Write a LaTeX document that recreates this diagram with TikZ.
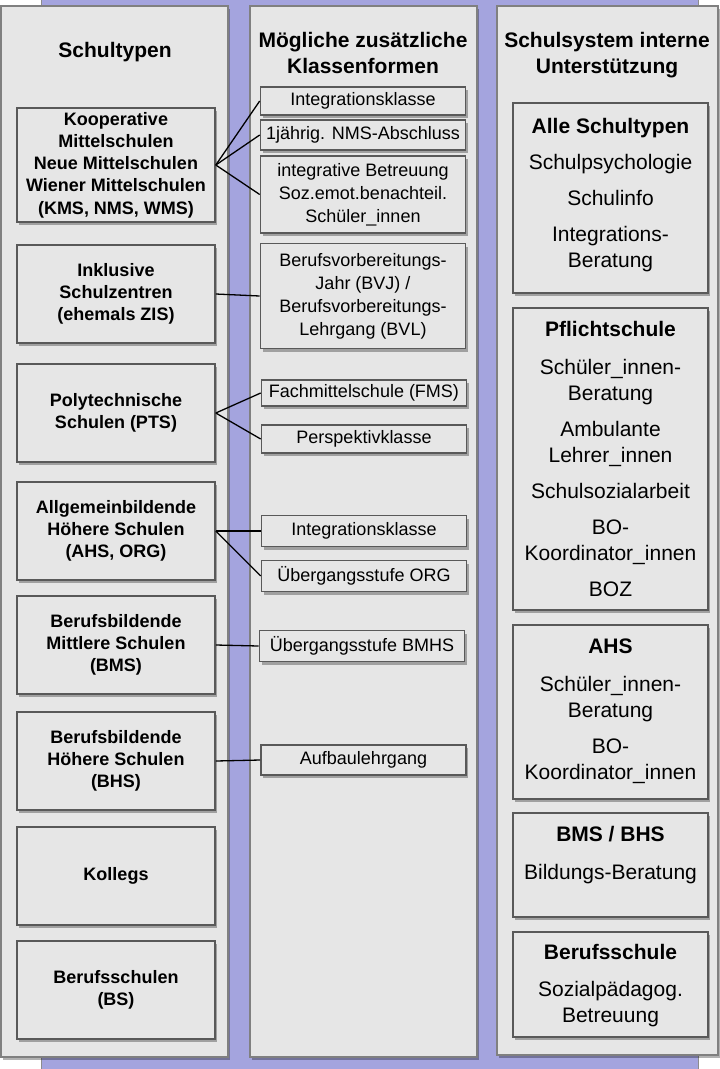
\documentclass[tikz,border=0pt]{standalone}
\usepackage{fontspec}
\setmainfont{Liberation Sans}
\usepackage{tikz}
\usetikzlibrary{positioning, shadows}
\definecolor{lila}{RGB}{164,164,222}
\definecolor{hellgrau}{RGB}{230,230,230}
\def\gap{10pt}

\begin{document}
\begin{tikzpicture}[x=1pt,y=-1pt,
    schatten/.style={drop shadow={shadow xshift=2pt,shadow yshift=-3pt,opacity=0.3,fill=black}},
    spalte/.style={rectangle,draw=black!50,fill=hellgrau,line width=1.2pt,schatten},
    typ/.style={rectangle,draw=black!65,fill=hellgrau,line width=1.6pt,schatten,
        minimum width=198pt,minimum height=98pt,inner sep=0pt,align=center,
        font=\fontsize{18}{22.3}\selectfont\bfseries},
    form/.style={rectangle,draw=black!65,fill=hellgrau,line width=1.6pt,schatten,
        minimum width=205pt,inner sep=0pt,align=center,
        font=\fontsize{18}{23}\selectfont},
    hilfe/.style={rectangle,draw=black!65,fill=hellgrau,line width=1.6pt,schatten,
        minimum width=195pt},
    inhalt/.style={anchor=north,inner sep=0pt,align=center,
        font=\fontsize{21}{26}\selectfont},
    titel/.style={align=center,font=\fontsize{21}{26}\selectfont\bfseries},
    verb/.style={draw=black,line width=1.3pt}]
        \useasboundingbox (0,0) rectangle (720,1069);
        \fill[white] (0,0) rectangle (720,1069);
        \draw[fill=lila,draw=black!45,line width=1pt] (41,-5) rectangle (698,1080);

        % drei Spalten
        \node[spalte,minimum width=227pt,minimum height=1051pt] (links) at (114.5,531.5) {};
        \node[spalte,minimum width=227pt,minimum height=1051pt] (mitte) at (363.5,531.5) {};
        \node[spalte,minimum width=221pt,minimum height=1049pt] (rechts) at (607.5,530.5) {};

        \node[titel] (t1) at (115,52) {Schultypen};
        \node[titel] (t2) at (363,53) {Mögliche zusätzliche\\Klassenformen};
        \node[titel] (t3) at (607,55) {Schulsystem interne\\Unterstützung};

        % Schultypen
        \node[typ,minimum height=114pt] (L1) at (116,165) {Kooperative\\Mittelschulen\\Neue Mittelschulen\\Wiener Mittelschulen\\(KMS, NMS, WMS)};
        \node[typ] (L2) at (116,294) {Inklusive\\Schulzentren\\(ehemals ZIS)};
        \node[typ] (L3) at (116,413) {Polytechnische\\Schulen (PTS)};
        \node[typ] (L4) at (116,531) {Allgemeinbildende\\Höhere Schulen\\(AHS, ORG)};
        \node[typ] (L5) at (116,645) {Berufsbildende\\Mittlere Schulen\\(BMS)};
        \node[typ] (L6) at (116,761) {Berufsbildende\\Höhere Schulen\\(BHS)};
        \node[typ] (L7) at (116,876) {Kollegs};
        \node[typ] (L8) at (116,990) {Berufsschulen\\(BS)};

        % Klassenformen
        \node[form,minimum height=28pt] (M1) at (363,101) {Integrationsklasse};
        \node[form,minimum height=30pt] (M2) at (363,135) {1jährig. NMS-Abschluss};
        \node[form,minimum height=77pt] (M3) at (363,194.5) {integrative Betreuung\\Soz.emot.benachteil.\\Schüler\_innen};
        \node[form,minimum height=105pt] (M4) at (363,296) {Berufsvorbereitungs-\\Jahr (BVJ) /\\Berufsvorbereitungs-\\Lehrgang (BVL)};
        \node[form,minimum height=26pt] (M5) at (364,393) {Fachmittelschule (FMS)};
        \node[form,minimum height=28pt] (M6) at (364,439) {Perspektivklasse};
        \node[form,minimum height=31pt] (M7) at (364,531) {Integrationsklasse};
        \node[form,minimum height=31pt] (M8) at (364,576) {Übergangsstufe ORG};
        \node[form,minimum height=31pt] (M9) at (362,646) {Übergangsstufe BMHS};
        \node[form,minimum height=30pt] (M10) at (363.5,760) {Aufbaulehrgang};

        % Unterstuetzung
        \node[hilfe,minimum height=190pt] (R1) at (610.5,198) {};
        \node[hilfe,minimum height=302pt] (R2) at (610.5,459) {};
        \node[hilfe,minimum height=174pt] (R3) at (610.5,712) {};
        \node[hilfe,minimum height=104pt] (R4) at (610.5,865) {};
        \node[hilfe,minimum height=105pt] (R5) at (610.5,984.5) {};

        \node[inhalt,below=16pt of R1.north] (R1t) {\textbf{Alle Schultypen}\\[\gap]Schulpsychologie\\[\gap]Schulinfo\\[\gap]Integrations-\\Beratung};
        \node[inhalt,below=14pt of R2.north] (R2t) {\textbf{Pflichtschule}\\[12pt]Schüler\_innen-\\Beratung\\[\gap]Ambulante\\Lehrer\_innen\\[\gap]Schulsozialarbeit\\[\gap]BO-\\Koordinator\_innen\\[\gap]BOZ};
        \node[inhalt,below=14pt of R3.north] (R3t) {\textbf{AHS}\\[12pt]Schüler\_innen-\\Beratung\\[\gap]BO-\\Koordinator\_innen};
        \node[inhalt,below=14pt of R4.north] (R4t) {\textbf{BMS / BHS}\\[12pt]Bildungs-Beratung};
        \node[inhalt,below=13pt of R5.north] (R5t) {\textbf{Berufsschule}\\[11pt]Sozialpädagog.\\Betreuung};

        % Verbindungen
        \draw[verb] (L1.east) -- (M1.west);
        \draw[verb] (L1.east) -- (M2.west);
        \draw[verb] (L1.east) -- (M3.west);
        \draw[verb] (L2.east) -- (M4.west);
        \draw[verb] (L3.east) -- (M5.west);
        \draw[verb] (L3.east) -- (M6.west);
        \draw[verb] (L4.east) -- (M7.west);
        \draw[verb] (L4.east) -- (M8.west);
        \draw[verb] (L5.east) -- (M9.west);
        \draw[verb] (L6.east) -- (M10.west);
\end{tikzpicture}
\end{document}
